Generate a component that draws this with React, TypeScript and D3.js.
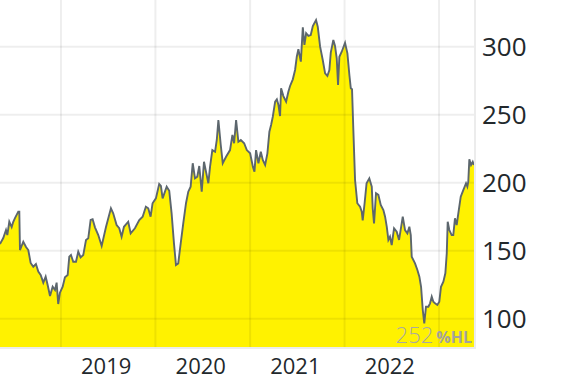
import React from "react";
import * as d3 from "d3";

const years = [
  2018.354,2018.389,2018.418,2018.432,2018.453,2018.478,2018.495,2018.513,2018.548,2018.559,
  2018.566,2018.601,2018.630,2018.654,2018.679,2018.707,2018.735,2018.760,2018.785,2018.813,
  2018.838,2018.859,2018.884,2018.912,2018.937,2018.954,2018.971,2018.989,2019.018,2019.042,
  2019.071,2019.088,2019.106,2019.130,2019.159,2019.183,2019.208,2019.236,2019.265,2019.289,
  2019.314,2019.335,2019.360,2019.395,2019.431,2019.476,2019.529,2019.553,2019.589,2019.617,
  2019.642,2019.667,2019.712,2019.738,2019.783,2019.829,2019.865,2019.899,2019.924,2019.949,
  2019.970,2020.005,2020.040,2020.058,2020.076,2020.119,2020.146,2020.171,2020.196,2020.217,
  2020.241,2020.267,2020.294,2020.323,2020.347,2020.372,2020.394,2020.418,2020.442,2020.463,
  2020.489,2020.513,2020.534,2020.559,2020.577,2020.601,2020.630,2020.648,2020.665,2020.690,
  2020.711,2020.746,2020.788,2020.813,2020.831,2020.852,2020.876,2020.902,2020.937,2020.965,
  2021.000,2021.029,2021.046,2021.063,2021.088,2021.113,2021.134,2021.159,2021.183,2021.204,
  2021.222,2021.240,2021.265,2021.283,2021.300,2021.317,2021.328,2021.352,2021.381,2021.405,
  2021.423,2021.452,2021.476,2021.494,2021.511,2021.537,2021.558,2021.575,2021.593,2021.617,
  2021.642,2021.664,2021.698,2021.716,2021.741,2021.769,2021.794,2021.818,2021.839,2021.854,
  2021.881,2021.899,2021.917,2021.931,2021.945,2021.970,2022.005,2022.030,2022.051,2022.066,
  2022.079,2022.093,2022.111,2022.135,2022.164,2022.182,2022.192,2022.212,2022.233,2022.262,
  2022.288,2022.298,2022.312,2022.333,2022.358,2022.383,2022.411,2022.429,2022.447,2022.464,
  2022.481,2022.499,2022.524,2022.552,2022.577,2022.605,2022.616,2022.640,2022.665,2022.686,
  2022.701,2022.711,2022.746,2022.771,2022.792,2022.810,2022.828,2022.844,2022.862,2022.887,
  2022.905,2022.923,2022.940,2022.958,2022.982,2023.003,2023.021,2023.046,2023.067,2023.082,
  2023.092,2023.109,2023.134,2023.151,2023.169,2023.187,2023.212,2023.230,2023.257,2023.286,
  2023.300,2023.310,2023.321,2023.339,2023.357,2023.370,
];

const prices = [
  154.9,159.3,165.2,161.5,171.3,167.4,171.3,174.0,178.7,178.7,
  150.5,156.6,152.7,150.5,141.0,138.2,140.2,134.6,132.1,126.5,
  130.9,124.8,116.7,123.5,121.1,126.5,110.8,119.1,123.5,130.4,
  132.1,145.6,146.8,141.9,141.9,149.3,145.1,146.8,157.9,159.1,
  172.6,173.1,167.2,161.5,153.5,167.2,181.2,177.5,168.9,166.5,
  160.3,167.6,171.3,162.8,166.5,172.6,175.0,182.4,181.2,175.0,
  184.9,188.5,199.0,197.6,188.5,197.1,194.1,177.5,155.4,139.5,
  140.7,155.4,170.1,184.9,193.4,197.1,214.3,203.2,204.4,212.3,
  193.4,215.4,208.1,199.6,211.8,224.0,222.8,231.4,246.1,227.7,
  214.3,219.1,224.0,235.1,229.0,246.1,230.1,231.4,229.0,224.0,
  221.6,211.8,208.1,224.0,214.3,222.8,216.7,213.0,221.6,237.5,
  242.4,248.5,259.6,261.3,257.1,249.0,269.4,263.7,259.6,266.9,
  271.1,276.0,282.9,292.6,298.1,289.0,314.3,301.3,309.9,307.9,
  308.6,315.2,319.6,314.7,300.0,290.2,280.4,278.5,282.9,295.6,
  304.9,300.5,291.5,271.8,292.6,296.3,302.9,295.1,279.2,269.4,
  268.7,238.7,202.0,184.9,182.4,178.7,172.3,184.9,199.6,203.2,
  197.1,181.2,170.1,192.2,191.0,183.6,179.9,175.0,167.6,157.9,
  160.3,154.2,166.5,164.0,157.9,170.1,175.0,165.2,162.8,167.6,
  161.5,145.6,140.7,135.8,130.9,123.5,106.4,96.6,108.8,108.8,
  111.3,116.2,112.5,111.3,110.1,112.5,123.5,127.2,133.4,148.1,
  171.3,165.2,161.5,161.5,173.8,168.9,181.2,189.7,194.6,199.6,
  197.1,200.7,217.2,213.0,215.4,213.0,
];

const yTicks = [100, 150, 200, 250, 300];
const xLabels = ["2019", "2020", "2021", "2022"];
const badgeValue = "252";
const badgeUnit = "%HL";

const W = 570;
const H = 382;
const PW = 475;
const PH = 348;

function yearToDate(t: number): Date {
  const y = Math.floor(t);
  const s = Date.UTC(y, 0, 1);
  const e = Date.UTC(y + 1, 0, 1);
  return new Date(s + (t - y) * (e - s));
}

export default function App() {
  const data = years.map((t, i) => ({ date: yearToDate(t), v: prices[i] }));
  const x = d3
    .scaleUtc()
    .domain([yearToDate(2018.3545), yearToDate(2023.381)])
    .range([0, PW]);
  const y = d3.scaleLinear().domain([78.46, 334.34]).range([PH, 0]);

  const area = d3
    .area<{ date: Date; v: number }>()
    .x((d) => x(d.date))
    .y0(PH)
    .y1((d) => y(d.v));
  const line = d3
    .line<{ date: Date; v: number }>()
    .x((d) => x(d.date))
    .y((d) => y(d.v));

  const yearStarts = d3.utcYear.range(x.domain()[0], x.domain()[1]).filter((d) => d > x.domain()[0]);
  const font = "'Open Sans', sans-serif";
  const grid = "rgba(0,0,0,0.065)";

  return (
    <svg
      width={W}
      height={H}
      style={{ position: "absolute", left: 0, top: 0, background: "#fff" }}
    >
      <defs>
        <clipPath id="plot">
          <rect x={0} y={0} width={PW} height={PH} />
        </clipPath>
      </defs>
      <g clipPath="url(#plot)">
        <path d={area(data) || ""} fill="#fff200" />
      </g>
      {yTicks.map((t) => (
        <line key={"h" + t} x1={0} x2={PW} y1={y(t)} y2={y(t)} stroke={grid} strokeWidth={2} />
      ))}
      {yearStarts.map((d, i) => (
        <line key={"v" + i} x1={x(d)} x2={x(d)} y1={0} y2={PH} stroke={grid} strokeWidth={2} />
      ))}
      <g clipPath="url(#plot)">
        <path
          d={line(data) || ""}
          fill="none"
          stroke="#5c666d"
          strokeWidth={1.9}
          strokeLinejoin="miter"
        />
      </g>
      <line x1={PW} x2={PW} y1={0} y2={PH + 1} stroke="#ececec" strokeWidth={2} />
      <line x1={0} x2={PW + 1} y1={PH} y2={PH} stroke="#ececec" strokeWidth={2} />
      {yTicks.map((t) => (
        <text
          key={"yl" + t}
          x={482}
          y={y(t) + 9.5}
          fontFamily={font}
          fontSize={26}
          fill="#22282c"
        >
          {t}
        </text>
      ))}
      {xLabels.map((lab) => {
        const yr = +lab;
        const mid = x(yearToDate(yr + 0.5)) - 2;
        return (
          <text
            key={"xl" + lab}
            x={mid}
            y={374}
            textAnchor="middle"
            fontFamily={font}
            fontSize={22}
            fill="#22282c"
          >
            {lab}
          </text>
        );
      })}
      <text x={472} y={343} textAnchor="end" fontFamily={font}>
        <tspan fontSize={22} fontWeight={300} fill="#a9a9a2">
          {badgeValue}
        </tspan>
        <tspan dx={3} fontSize={16} fontWeight={700} fill="#a3a39c">
          {badgeUnit}
        </tspan>
      </text>
    </svg>
  );
}
